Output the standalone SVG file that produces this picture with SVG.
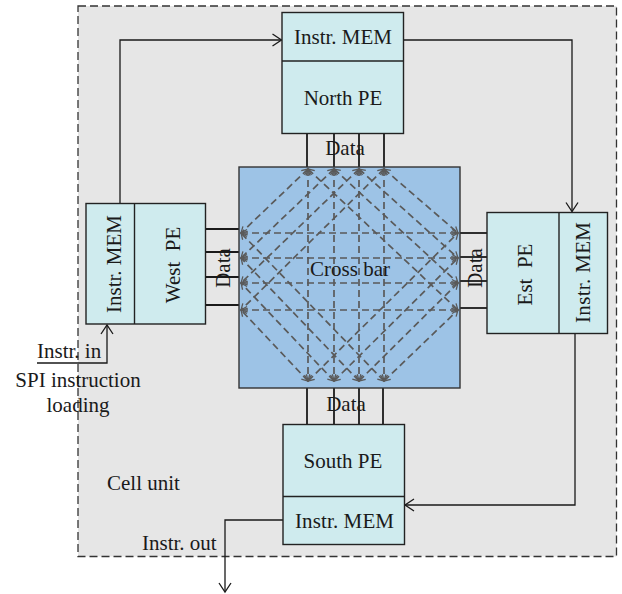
<svg xmlns="http://www.w3.org/2000/svg" width="622" height="594" viewBox="0 0 622 594">
  <style>
    .lbl { font-family: "Liberation Serif", "Times New Roman", serif; font-size: 21px; fill: #1a1a1a; }
    .mid { text-anchor: middle; }
    .pre { white-space: pre; }
    .box { fill: #cfebee; stroke: #222; stroke-width: 1.4; }
    .wire { fill: none; stroke: #1a1a1a; stroke-width: 1.3; }
    .bus { stroke: #1a1a1a; stroke-width: 1.8; }
    .xl { fill: none; stroke: #5a5a5a; stroke-width: 1.7; stroke-dasharray: 7 4; marker-start: url(#xa); marker-end: url(#xa); }
  </style>
  <defs>
    <marker id="ah" markerUnits="userSpaceOnUse" markerWidth="14" markerHeight="14" viewBox="-12 -7 14 14" refX="0" refY="0" orient="auto">
      <path d="M-9,-6 L0,0 L-9,6" fill="none" stroke="#1a1a1a" stroke-width="1.3"/>
    </marker>
    <marker id="xa" markerUnits="userSpaceOnUse" markerWidth="10" markerHeight="10" viewBox="-8 -5 10 10" refX="0" refY="0" orient="auto-start-reverse">
      <path d="M-6,-3.5 L0,0 L-6,3.5" fill="none" stroke="#5a5a5a" stroke-width="1.3" stroke-dasharray="none"/>
    </marker>
  </defs>

  <rect width="622" height="594" fill="#ffffff"/>

  <!-- cell unit boundary -->
  <g id="cell-unit">
    <rect x="78" y="6" width="538.5" height="550.5" fill="#e6e6e6" stroke="#333" stroke-width="1.3" stroke-dasharray="8 4"/>
    <text class="lbl" x="107" y="490">Cell unit</text>
  </g>

  <!-- instruction chain and data buses -->
  <g id="connectors">
    <polyline class="wire" points="37,363 107,363 107,325" marker-end="url(#ah)"/>
    <polyline class="wire" points="120,203 120,40 281.5,40" marker-end="url(#ah)"/>
    <polyline class="wire" points="404,40 572,40 572,211.5" marker-end="url(#ah)"/>
    <polyline class="wire" points="575,333.5 575,505 405,505" marker-end="url(#ah)"/>
    <polyline class="wire" points="283,520 225,520 225,592" marker-end="url(#ah)"/>

    <g class="bus">
      <line x1="307" y1="133" x2="307" y2="167"/>
      <line x1="334" y1="133" x2="334" y2="167"/>
      <line x1="359" y1="133" x2="359" y2="167"/>
      <line x1="384" y1="133" x2="384" y2="167"/>

      <line x1="307" y1="388" x2="307" y2="424"/>
      <line x1="334" y1="388" x2="334" y2="424"/>
      <line x1="359" y1="388" x2="359" y2="424"/>
      <line x1="383" y1="388" x2="383" y2="424"/>

      <line x1="206" y1="229" x2="239" y2="229"/>
      <line x1="206" y1="252" x2="239" y2="252"/>
      <line x1="206" y1="277" x2="239" y2="277"/>
      <line x1="206" y1="305" x2="239" y2="305"/>

      <line x1="460" y1="233" x2="487" y2="233"/>
      <line x1="460" y1="257" x2="487" y2="257"/>
      <line x1="460" y1="281" x2="487" y2="281"/>
      <line x1="460" y1="308" x2="487" y2="308"/>
    </g>

    <text class="lbl mid" x="345" y="154.5">Data</text>
    <text class="lbl mid" x="346" y="411">Data</text>
    <text class="lbl mid" transform="translate(230 268) rotate(-90)">Data</text>
    <text class="lbl mid" transform="translate(481.5 268) rotate(-90)">Data</text>
    <text class="lbl" x="37" y="358">Instr. in</text>
    <text class="lbl mid" x="78" y="387">SPI instruction</text>
    <text class="lbl mid" x="78" y="411.5">loading</text>
    <text class="lbl" x="142" y="550">Instr. out</text>
  </g>

  <!-- crossbar switch -->
  <g id="crossbar">
    <rect x="239" y="167" width="221" height="221" fill="#9dc3e6" stroke="#333" stroke-width="1.4"/>
    <g>
      <line class="xl" x1="241" y1="233" x2="458" y2="233"/>
      <line class="xl" x1="241" y1="258" x2="458" y2="258"/>
      <line class="xl" x1="241" y1="283" x2="458" y2="283"/>
      <line class="xl" x1="241" y1="310" x2="458" y2="310"/>

      <line class="xl" x1="308" y1="169" x2="308" y2="381"/>
      <line class="xl" x1="334" y1="169" x2="334" y2="381"/>
      <line class="xl" x1="359" y1="169" x2="359" y2="381"/>
      <line class="xl" x1="384" y1="169" x2="384" y2="381"/>

      <line class="xl" x1="308" y1="169" x2="241" y2="233"/>
      <line class="xl" x1="334" y1="169" x2="241" y2="258"/>
      <line class="xl" x1="359" y1="169" x2="241" y2="283"/>
      <line class="xl" x1="384" y1="169" x2="241" y2="310"/>

      <line class="xl" x1="384" y1="169" x2="458" y2="233"/>
      <line class="xl" x1="359" y1="169" x2="458" y2="258"/>
      <line class="xl" x1="334" y1="169" x2="458" y2="283"/>
      <line class="xl" x1="308" y1="169" x2="458" y2="310"/>

      <line class="xl" x1="308" y1="381" x2="241" y2="310"/>
      <line class="xl" x1="334" y1="381" x2="241" y2="283"/>
      <line class="xl" x1="359" y1="381" x2="241" y2="258"/>
      <line class="xl" x1="384" y1="381" x2="241" y2="233"/>

      <line class="xl" x1="384" y1="381" x2="458" y2="310"/>
      <line class="xl" x1="359" y1="381" x2="458" y2="283"/>
      <line class="xl" x1="334" y1="381" x2="458" y2="258"/>
      <line class="xl" x1="308" y1="381" x2="458" y2="233"/>
    </g>
    <text class="lbl mid" x="350" y="275.5">Cross bar</text>
  </g>

  <!-- processing elements with their instruction memories -->
  <g id="north-pe">
    <rect class="box" x="282" y="12.5" width="121.5" height="121"/>
    <line x1="282" y1="61" x2="403.5" y2="61" stroke="#222" stroke-width="1.4"/>
    <text class="lbl mid" x="343" y="44" textLength="98" lengthAdjust="spacing">Instr. MEM</text>
    <text class="lbl mid" x="343" y="105">North PE</text>
  </g>

  <g id="west-pe">
    <rect class="box" x="86" y="203.5" width="119.5" height="120.5"/>
    <line x1="134.5" y1="203.5" x2="134.5" y2="324" stroke="#222" stroke-width="1.4"/>
    <text class="lbl mid" transform="translate(121 264) rotate(-90)" textLength="98" lengthAdjust="spacing">Instr. MEM</text>
    <text class="lbl mid pre" transform="translate(180 265) rotate(-90)">West  PE</text>
  </g>

  <g id="east-pe">
    <rect class="box" x="487" y="212.5" width="120.5" height="121"/>
    <line x1="559" y1="212.5" x2="559" y2="333.5" stroke="#222" stroke-width="1.4"/>
    <text class="lbl mid pre" transform="translate(531.5 274.5) rotate(-90)">Est  PE</text>
    <text class="lbl mid" transform="translate(590 272.5) rotate(-90)" textLength="101" lengthAdjust="spacing">Instr. MEM</text>
  </g>

  <g id="south-pe">
    <rect class="box" x="283" y="424.5" width="121.5" height="120"/>
    <line x1="283" y1="496.5" x2="404.5" y2="496.5" stroke="#222" stroke-width="1.4"/>
    <text class="lbl mid" x="343" y="468">South PE</text>
    <text class="lbl mid" x="344.5" y="528" textLength="99" lengthAdjust="spacing">Instr. MEM</text>
  </g>
</svg>
